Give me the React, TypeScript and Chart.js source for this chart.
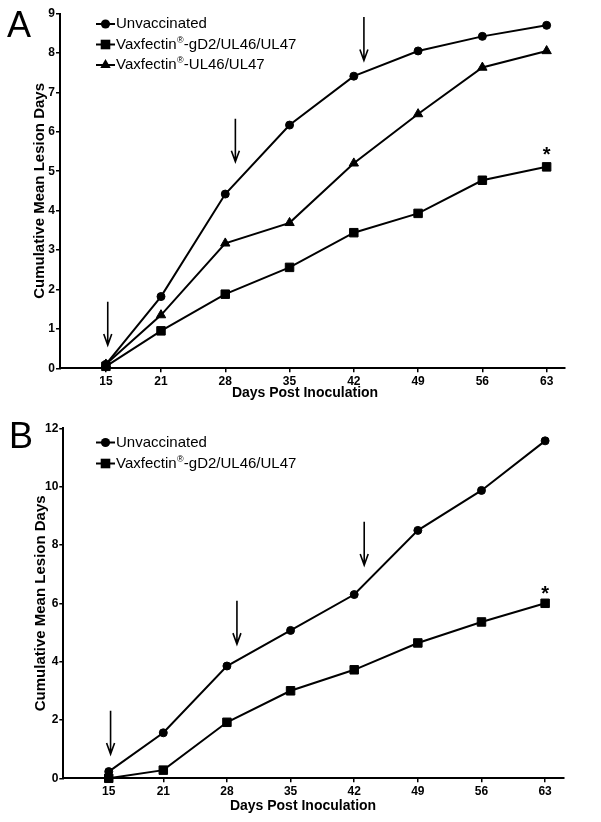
import React, { useEffect, useRef } from "react";
import { Chart, registerables } from "chart.js";

Chart.register(...registerables);

// ---------- data ----------
const days = [15, 21, 28, 35, 42, 49, 56, 63];
const xTickValues = [15, 21, 28, 35, 42, 49, 56, 63];

const seriesLabels = ["Unvaccinated", "Vaxfectin®-gD2/UL46/UL47", "Vaxfectin®-UL46/UL47"];
const xTitle = "Days Post Inoculation";
const yTitle = "Cumulative Mean Lesion Days";

const unvaccinatedA = [0.1, 1.82, 4.42, 6.17, 7.41, 8.05, 8.42, 8.7];
const gd2A = [0.05, 0.95, 1.88, 2.56, 3.44, 3.93, 4.77, 5.11];
const ul46A = [0.1, 1.35, 3.17, 3.69, 5.2, 6.45, 7.63, 8.05];

const unvaccinatedB = [0.23, 1.56, 3.85, 5.07, 6.3, 8.5, 9.87, 11.57];
const gd2B = [0.0, 0.28, 1.92, 3.0, 3.72, 4.64, 5.36, 6.0];

// arrows: day, top value, tip value
const arrowDays = [15.2, 29.1, 43.1];
const arrowTopA = [1.69, 6.33, 8.91];
const arrowTipA = [0.59, 5.24, 7.81];
const arrowTopB = [2.32, 6.09, 8.8];
const arrowTipB = [0.83, 4.6, 7.31];

// significance asterisk at last day
const asteriskDay = 63;
const asteriskA = 5.55;
const asteriskB = 6.5;

const yTicksA = { max: 9, step: 1 };
const yTicksB = { max: 12, step: 2 };

// ---------- drawing ----------
const FONT = '"Liberation Sans", Arial, Helvetica, sans-serif';
type Style = "circle" | "rect" | "triangle";

function drawMarker(ctx: CanvasRenderingContext2D, style: Style, x: number, y: number) {
  ctx.beginPath();
  if (style === "circle") {
    ctx.arc(x, y, 4.6, 0, Math.PI * 2);
  } else if (style === "rect") {
    ctx.rect(x - 4.8, y - 4.8, 9.6, 9.6);
  } else {
    ctx.moveTo(x, y - 6);
    ctx.lineTo(x + 5.2, y + 3);
    ctx.lineTo(x - 5.2, y + 3);
    ctx.closePath();
  }
  ctx.fill();
}

function drawLabel(ctx: CanvasRenderingContext2D, text: string, x: number, y: number) {
  const parts = text.split("®");
  ctx.textBaseline = "middle";
  ctx.textAlign = "left";
  let cx = x;
  parts.forEach((p, i) => {
    ctx.font = `15px ${FONT}`;
    ctx.fillText(p, cx, y);
    cx += ctx.measureText(p).width;
    if (i < parts.length - 1) {
      ctx.font = `9px ${FONT}`;
      ctx.fillText("®", cx + 0.3, y - 4);
      cx += ctx.measureText("®").width + 0.6;
    }
  });
}

interface PanelProps {
  top: number;
  letter: string;
  letterX: number;
  letterY: number;
  chartLeft: number;
  chartRight: number;
  chartTop: number;
  chartBottom: number;
  yMax: number;
  yStep: number;
  series: { label: string; values: number[]; style: Style }[];
  legendY: number[];
  arrowTop: number[];
  arrowTip: number[];
  asterisk: number;
  yTitlePad: number;
  xTitleX: number;
  xTitleY: number;
}

const H = 411;

function Panel(p: PanelProps) {
  const ref = useRef<HTMLCanvasElement | null>(null);
  useEffect(() => {
    if (!ref.current) return;
    const radius: Record<Style, number> = { circle: 4, rect: 6, triangle: 5.4 };
    const annot = {
      id: "annot" + p.letter,
      afterDatasetsDraw(chart: any) {
        const ctx: CanvasRenderingContext2D = chart.ctx;
        const xs = chart.scales.x;
        const ys = chart.scales.y;
        ctx.save();
        ctx.fillStyle = "#000";
        ctx.strokeStyle = "#000";
        // arrows
        ctx.lineWidth = 1.6;
        arrowDays.forEach((d, i) => {
          const x = xs.getPixelForValue(d);
          const y0 = ys.getPixelForValue(p.arrowTop[i]);
          const y1 = ys.getPixelForValue(p.arrowTip[i]);
          ctx.beginPath();
          ctx.moveTo(x, y0);
          ctx.lineTo(x, y1);
          ctx.moveTo(x - 4, y1 - 11);
          ctx.lineTo(x, y1);
          ctx.lineTo(x + 4, y1 - 11);
          ctx.stroke();
        });
        // asterisk
        ctx.font = `bold 20px ${FONT}`;
        ctx.textAlign = "center";
        ctx.textBaseline = "alphabetic";
        ctx.fillText("*", xs.getPixelForValue(asteriskDay), ys.getPixelForValue(p.asterisk) + 11.5);
        // x axis title
        ctx.font = `bold 14px ${FONT}`;
        ctx.textAlign = "center";
        ctx.textBaseline = "middle";
        ctx.fillText(xTitle, p.xTitleX, p.xTitleY);
        // legend
        p.series.forEach((s, i) => {
          const y = p.legendY[i];
          ctx.lineWidth = 2;
          ctx.beginPath();
          ctx.moveTo(96, y);
          ctx.lineTo(115, y);
          ctx.stroke();
          drawMarker(ctx, s.style, 105.5, y);
          drawLabel(ctx, s.label, 116, y);
        });
        // panel letter
        ctx.font = `36px ${FONT}`;
        ctx.textAlign = "left";
        ctx.textBaseline = "alphabetic";
        ctx.fillText(p.letter, p.letterX, p.letterY);
        ctx.restore();
      },
    };
    const chart = new Chart(ref.current, {
      type: "line",
      data: {
        datasets: p.series.map((s) => ({
          label: s.label,
          data: days.map((d, i) => ({ x: d, y: s.values[i] })),
          borderColor: "#000",
          backgroundColor: "#000",
          borderWidth: 2,
          pointStyle: s.style,
          pointRadius: radius[s.style],
          pointBorderWidth: 1,
          pointBorderColor: "#000",
          pointBackgroundColor: "#000",
          tension: 0,
          clip: false as any,
        })),
      },
      options: {
        responsive: false,
        animation: false,
        devicePixelRatio: 1,
        layout: { padding: { left: 0, top: p.chartTop, right: 601 - p.chartRight, bottom: 0 } },
        plugins: { legend: { display: false }, tooltip: { enabled: false } },
        scales: {
          x: {
            type: "linear",
            min: 10,
            max: 65,
            afterBuildTicks: (s: any) => {
              s.ticks = xTickValues.map((v) => ({ value: v }));
            },
            afterFit: (s: any) => {
              s.height = H - p.chartBottom;
            },
            ticks: {
              color: "#000",
              font: { family: FONT, size: 12, weight: "bold" },
              padding: 2,
              autoSkip: false,
              maxRotation: 0,
            },
            grid: { drawOnChartArea: false, color: "#000", tickLength: 4, lineWidth: 1.5 },
            border: { display: true, color: "#000", width: 2 },
            title: { display: false },
          },
          y: {
            type: "linear",
            min: 0,
            max: p.yMax,
            afterFit: (s: any) => {
              s.width = p.chartLeft;
            },
            ticks: {
              stepSize: p.yStep,
              color: "#000",
              font: { family: FONT, size: 12, weight: "bold" },
              padding: 1,
            },
            grid: { drawOnChartArea: false, color: "#000", tickLength: 4, lineWidth: 1.5 },
            border: { display: true, color: "#000", width: 2 },
            title: {
              display: true,
              text: yTitle,
              color: "#000",
              font: { family: FONT, size: 15, weight: "bold" },
              padding: { top: p.yTitlePad, bottom: 0 },
            },
          },
        },
      },
      plugins: [annot],
    } as any);
    return () => chart.destroy();
  }, []);
  return (
    <canvas
      ref={ref}
      width={601}
      height={H}
      style={{ position: "absolute", left: 0, top: p.top, width: 601, height: H, display: "block" }}
    />
  );
}

export default function App() {
  return (
    <div style={{ position: "absolute", left: 0, top: 0, width: 601, height: 822, background: "#fff" }}>
      <Panel
        top={0}
        letter="A"
        letterX={7}
        letterY={37}
        chartLeft={60}
        chartRight={565}
        chartTop={13.5}
        chartBottom={368.3}
        yMax={yTicksA.max}
        yStep={yTicksA.step}
        series={[
          { label: seriesLabels[0], values: unvaccinatedA, style: "circle" },
          { label: seriesLabels[1], values: gd2A, style: "rect" },
          { label: seriesLabels[2], values: ul46A, style: "triangle" },
        ]}
        legendY={[24, 44.5, 65]}
        arrowTop={arrowTopA}
        arrowTip={arrowTipA}
        asterisk={asteriskA}
        yTitlePad={31}
        xTitleX={305}
        xTitleY={393.5}
      />
      <Panel
        top={411}
        letter="B"
        letterX={9}
        letterY={37}
        chartLeft={63.3}
        chartRight={563.3}
        chartTop={17.3}
        chartBottom={367.3}
        yMax={yTicksB.max}
        yStep={yTicksB.step}
        series={[
          { label: seriesLabels[0], values: unvaccinatedB, style: "circle" },
          { label: seriesLabels[1], values: gd2B, style: "rect" },
        ]}
        legendY={[31.5, 52.5]}
        arrowTop={arrowTopB}
        arrowTip={arrowTipB}
        asterisk={asteriskB}
        yTitlePad={32}
        xTitleX={303}
        xTitleY={394.7}
      />
    </div>
  );
}
